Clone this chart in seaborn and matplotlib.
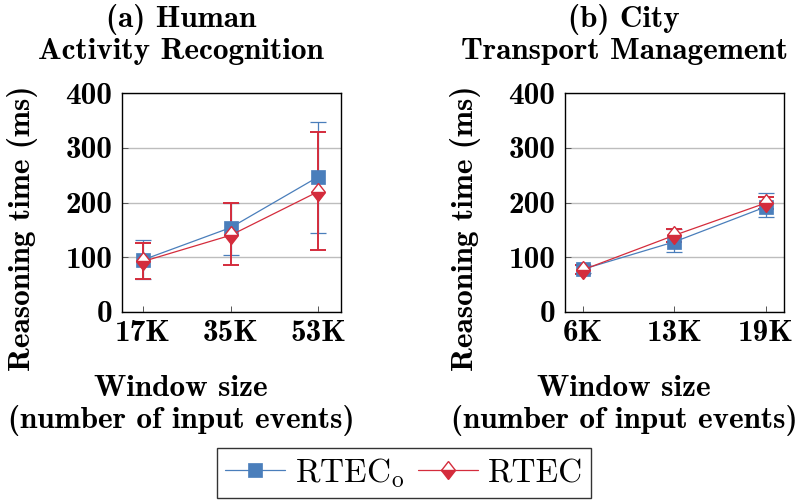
import matplotlib
matplotlib.use("Agg")
import matplotlib.pyplot as plt
from matplotlib.markers import MarkerStyle
from matplotlib.transforms import Affine2D
import seaborn as sns
import pandas as pd

# ---------------- data ----------------
title_a = "(a) Human\nActivity Recognition"
title_b = "(b) City\nTransport Management"
xlabel_text = "Window size\n(number of input events)"
ylabel_text = "Reasoning time (ms)"
series_names = ["RTEC$_{\\rm o}$", "RTEC"]

windows_a = ["17K", "35K", "53K"]
rteco_a = [95, 154, 247]
rteco_a_lo = [59, 103, 145]
rteco_a_hi = [131, 200, 348]
rtec_a = [92, 140, 220]
rtec_a_lo = [59, 86, 113]
rtec_a_hi = [125, 199, 330]

windows_b = ["6K", "13K", "19K"]
rteco_b = [78, 128, 192]
rteco_b_lo = [70, 110, 173]
rteco_b_hi = [86, 151, 217]
rtec_b = [77, 140, 199]
rtec_b_lo = [69, 127, 189]
rtec_b_hi = [85, 152, 210]

yticks = [0, 100, 200, 300, 400]

BLUE = "#4a7ebb"
RED = "#d42c3c"

# ---------------- style ----------------
sns.set_style("whitegrid")
plt.rcParams["font.family"] = ["cmb10", "DejaVu Serif"]
plt.rcParams["mathtext.fontset"] = "cm"
plt.rcParams["axes.unicode_minus"] = False
plt.rcParams["text.color"] = "black"
plt.rcParams["axes.labelcolor"] = "black"
plt.rcParams["xtick.labelcolor"] = "black"
plt.rcParams["ytick.labelcolor"] = "black"

FS = 22.5

half_diamond = MarkerStyle("d", fillstyle="bottom", transform=Affine2D().scale(1.25, 1.0))

fig = plt.figure(figsize=(7.96, 5.03), dpi=100)
axes = [fig.add_axes([0.1533, 0.3803, 0.2751, 0.4342]),
        fig.add_axes([0.7098, 0.3803, 0.2751, 0.4342])]

panels = [
    (title_a, windows_a, rteco_a, rteco_a_lo, rteco_a_hi, rtec_a, rtec_a_lo, rtec_a_hi, (-0.24, 2.26)),
    (title_b, windows_b, rteco_b, rteco_b_lo, rteco_b_hi, rtec_b, rtec_b_lo, rtec_b_hi, (-0.2, 2.2)),
]

for ax, (title, win, v1, lo1, hi1, v2, lo2, hi2, xl) in zip(axes, panels):
    df = pd.DataFrame({"window": win, "rteco": v1, "rtec": v2})
    # error bars (below lines/markers)
    ax.errorbar(win, v1, yerr=[[a - b for a, b in zip(v1, lo1)], [b - a for a, b in zip(v1, hi1)]],
                fmt="none", ecolor=BLUE, elinewidth=0.9, capsize=5.5, capthick=0.9, zorder=2)
    ax.errorbar(win, v2, yerr=[[a - b for a, b in zip(v2, lo2)], [b - a for a, b in zip(v2, hi2)]],
                fmt="none", ecolor=RED, elinewidth=1.4, capsize=6, capthick=1.4, zorder=2.1)
    sns.lineplot(data=df, x="window", y="rteco", ax=ax, color=BLUE, linewidth=0.9,
                 marker="s", markersize=10, markeredgecolor=BLUE, markerfacecolor=BLUE,
                 markeredgewidth=0.5, label=series_names[0], zorder=3, legend=False)
    sns.lineplot(data=df, x="window", y="rtec", ax=ax, color=RED, linewidth=0.9,
                 marker=half_diamond, markersize=9, markeredgecolor=RED, markerfacecolor=RED,
                 markerfacecoloralt="white",
                 markeredgewidth=1.0, label=series_names[1], zorder=3.1, legend=False)

    ax.set_xlim(*xl)
    ax.set_ylim(0, 400)
    ax.set_yticks(yticks)
    ax.set_yticklabels([str(t) for t in yticks])
    ax.set_xticks(range(len(win)))
    ax.set_xticklabels(win)
    ax.tick_params(axis="both", labelsize=FS, direction="in", length=4, width=0.7,
                   color="#555555", labelcolor="black", bottom=True, left=True)
    ax.tick_params(axis="x", pad=6)
    ax.tick_params(axis="y", pad=7)
    ax.grid(axis="x", visible=False)
    ax.grid(axis="y", color="#bdbdbd", linewidth=1.0)
    for s in ax.spines.values():
        s.set_color("black")
        s.set_linewidth(1.0)

    ax.set_title(title, fontsize=FS, x=0.27, y=1.13, va="bottom", pad=0, linespacing=1.15,
                 color="black")
    ax.set_xlabel(xlabel_text, fontsize=FS, linespacing=1.15)
    ax.xaxis.set_label_coords(0.27, -0.29)
    ax.set_ylabel(ylabel_text, fontsize=FS)
    ax.yaxis.set_label_coords(-0.385, 0.38)

handles, labels = axes[0].get_legend_handles_labels()
leg = fig.legend(handles, labels, loc="center", bbox_to_anchor=(404 / 796, 1 - 473 / 503),
                 ncol=2, frameon=True, fancybox=False, edgecolor="black",
                 prop={"family": ["cmr10", "DejaVu Serif"], "size": 24},
                 handlelength=1.8, handletextpad=0.3, columnspacing=0.4, borderpad=0.25)
leg.get_frame().set_linewidth(1.0)

fig.savefig("out.png", dpi=100)
